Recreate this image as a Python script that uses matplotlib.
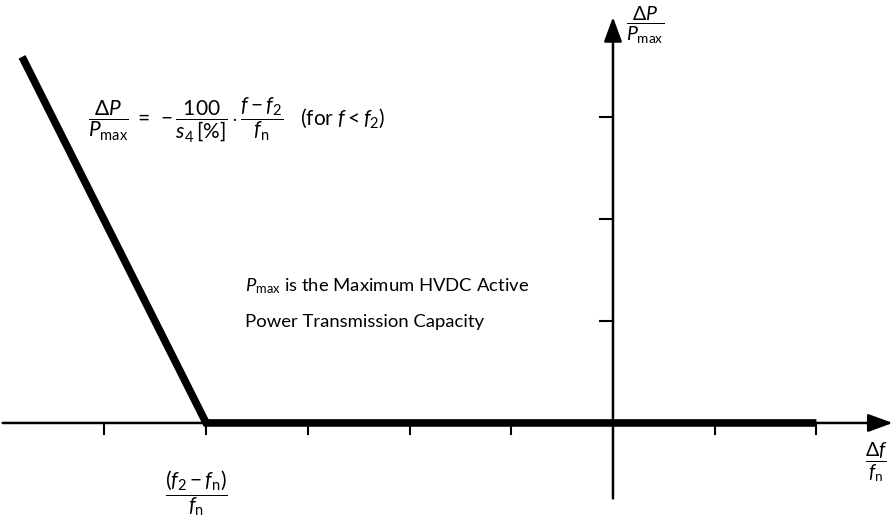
import matplotlib
matplotlib.use("Agg")
import matplotlib.pyplot as plt

plt.rcParams["font.family"] = ["Lato", "DejaVu Sans"]
plt.rcParams["mathtext.fontset"] = "custom"
plt.rcParams["mathtext.rm"] = "Lato"
plt.rcParams["mathtext.it"] = "Lato:italic"
plt.rcParams["mathtext.bf"] = "Lato:bold"

# characteristic: df/fn (tick units) vs dP/Pmax (tick units)
curve_x = [-5.81, -4.0, 2.0]
curve_y = [3.59, 0.0, 0.0]

x_ticks = [-5, -4, -3, -2, -1, 1, 2]
y_ticks = [1, 2, 3]

x_axis = (-6.0, 2.75)
y_axis = (-0.74, 3.98)

fig = plt.figure(figsize=(8.95, 5.22), dpi=100)
ax = fig.add_axes([0, 0, 1, 1])
ax.set_xlim(-6.027, 2.773)
ax.set_ylim(-0.971, 4.147)
ax.axis("off")

# axes with arrows
arrow = dict(arrowstyle="-|>,head_length=1.5,head_width=0.55",
             color="black", lw=1.8, shrinkA=0, shrinkB=0)
ax.annotate("", xy=(x_axis[1], 0), xytext=(x_axis[0], 0), arrowprops=arrow)
ax.annotate("", xy=(0, y_axis[1]), xytext=(0, y_axis[0]), arrowprops=arrow)

# tick marks
for t in x_ticks:
    ax.plot([t, t], [0, -0.11], color="black", lw=1.5)
for t in y_ticks:
    ax.plot([-0.125, 0], [t, t], color="black", lw=1.5)

ax.plot(curve_x, curve_y, color="black", lw=5.5, solid_joinstyle="miter",
        solid_capstyle="butt")

ax.text(-5.16, 2.97,
        r"$\dfrac{\Delta P}{P_{\mathrm{max}}}\;=\;-\dfrac{100}{s_4\,[\%]}\cdot\dfrac{f-f_2}{f_\mathrm{n}}$"
        r"   (for $f<f_2$)",
        fontsize=15, va="center", ha="left")

ax.text(-3.62, 1.34, r"$P_\mathrm{max}$ is the Maximum HVDC Active",
        fontsize=13.3, va="center", ha="left")
ax.text(-3.62, 0.99, "Power Transmission Capacity",
        fontsize=13.3, va="center", ha="left")

ax.text(-4.10, -0.686, r"$\dfrac{(f_2-f_\mathrm{n})}{f_\mathrm{n}}$",
        fontsize=15, va="center", ha="center")
ax.text(2.586, -0.392, r"$\dfrac{\Delta f}{f_\mathrm{n}}$",
        fontsize=14, va="center", ha="center")
ax.text(0.315, 3.90, r"$\dfrac{\Delta P}{P_\mathrm{max}}$",
        fontsize=14, va="center", ha="center")

fig.savefig("out.png", dpi=100)
